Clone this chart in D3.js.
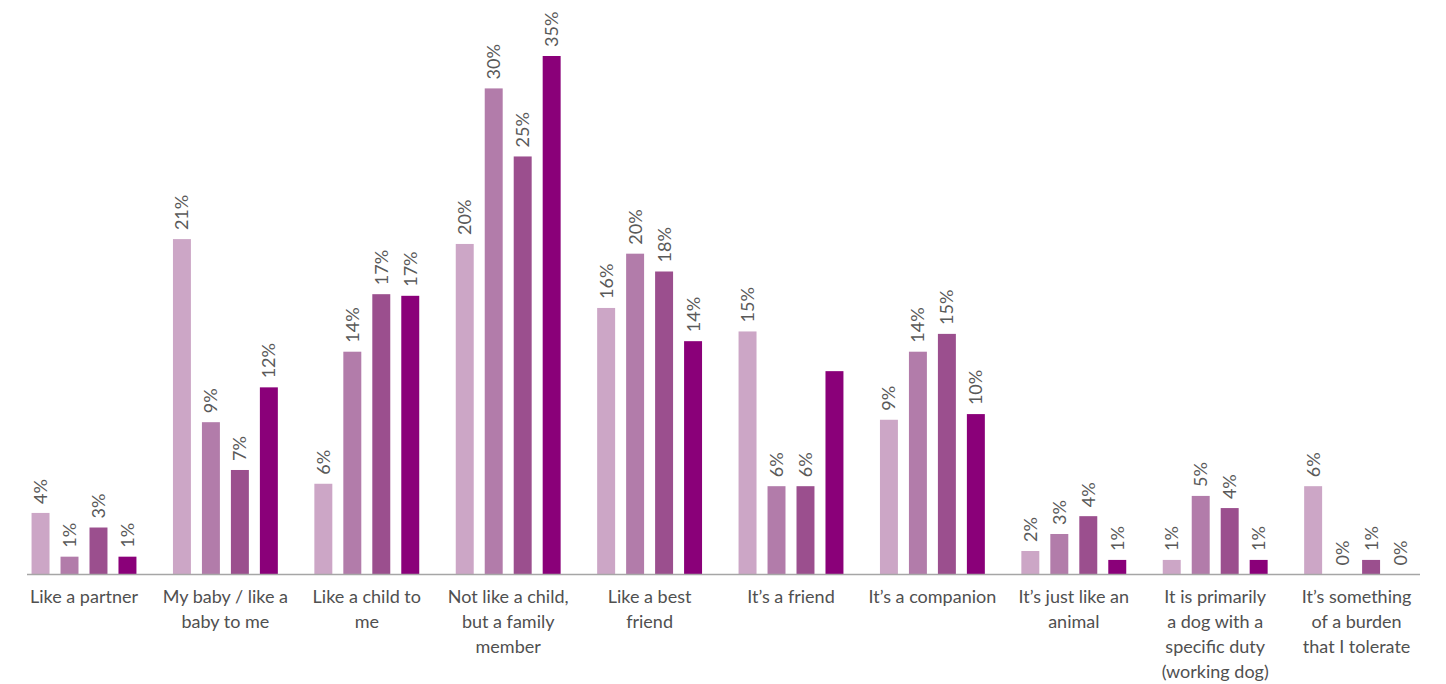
<!DOCTYPE html>
<html>
<head>
<meta charset="utf-8">
<script src="https://cdn.jsdelivr.net/npm/d3@7"></script>
<style>
  body { margin: 0; background: #fff; }
  svg text { font-family: Lato, "Open Sans", sans-serif; }
</style>
</head>
<body>
<svg id="chart" width="1446" height="684"></svg>
<script>
// categories, one label line per entry
var categories = [
    ["Like a partner"],
    ["My baby / like a", "baby to me"],
    ["Like a child to", "me"],
    ["Not like a child,", "but a family", "member"],
    ["Like a best", "friend"],
    ["It’s a friend"],
    ["It’s a companion"],
    ["It’s just like an", "animal"],
    ["It is primarily", "a dog with a", "specific duty", "(working dog)"],
    ["It’s something", "of a burden", "that I tolerate"]
];
var series = ["s1", "s2", "s3", "s4"];

// bar heights (percent)
var s1Values = [3.8, 20.7, 5.6, 20.4, 16.45, 15.0, 9.55, 1.45, 0.9, 5.45];
var s2Values = [1.1, 9.4, 13.75, 30.0, 19.8, 5.45, 13.75, 2.5, 4.85, 0];
var s3Values = [2.9, 6.45, 17.3, 25.8, 18.7, 5.45, 14.85, 3.6, 4.1, 0.9];
var s4Values = [1.1, 11.55, 17.2, 32.0, 14.4, 12.55, 9.9, 0.9, 0.9, 0];

// printed labels
var s1Labels = ["4%", "21%", "6%", "20%", "16%", "15%", "9%", "2%", "1%", "6%"];
var s2Labels = ["1%", "9%", "14%", "30%", "20%", "6%", "14%", "3%", "5%", "0%"];
var s3Labels = ["3%", "7%", "17%", "25%", "18%", "6%", "15%", "4%", "4%", "1%"];
var s4Labels = ["1%", "12%", "17%", "35%", "14%", "", "10%", "1%", "1%", "0%"];

var colors = ["#cca6c6", "#b27caa", "#9b4f8e", "#8a0079"];

var allValues = [s1Values, s2Values, s3Values, s4Values];
var allLabels = [s1Labels, s2Labels, s3Labels, s4Labels];

var baseline = 574.5;

var svg = d3.select("#chart");

var x0 = d3.scaleBand()
    .domain(d3.range(categories.length))
    .range([13.3, 1427.3]);

var x1 = d3.scaleBand()
    .domain(series)
    .range([0, x0.bandwidth()])
    .paddingInner(0.38)
    .paddingOuter(0.63);

var y = d3.scaleLinear()
    .domain([0, 32])
    .range([baseline, 56]);

var color = d3.scaleOrdinal().domain(series).range(colors);

// rows: one per bar
var rows = [];
categories.forEach(function(c, i){
    series.forEach(function(s, j){
        rows.push({cat: i, ser: s, value: allValues[j][i], label: allLabels[j][i]});
    });
});

var groups = svg.append("g");

groups.selectAll("rect")
    .data(rows)
    .enter().append("rect")
    .attr("x", function(d){ return x0(d.cat) + x1(d.ser); })
    .attr("y", function(d){ return y(d.value); })
    .attr("width", x1.bandwidth())
    .attr("height", function(d){ return baseline - y(d.value); })
    .attr("fill", function(d){ return color(d.ser); });

// value labels, rotated
groups.selectAll("text.val")
    .data(rows.filter(function(d){ return d.label != ""; }))
    .enter().append("text")
    .attr("class", "val")
    .attr("transform", function(d){
        var cx = x0(d.cat) + x1(d.ser) + x1.bandwidth()/2;
        return "translate(" + cx + "," + (y(d.value) - 9) + ") rotate(-90)";
    })
    .attr("dy", "0.36em")
    .attr("text-anchor", "start")
    .attr("font-size", 18)
    .attr("fill", "#595959")
    .text(function(d){ return d.label; });

// axis line
svg.append("line")
    .attr("x1", 27).attr("x2", 1420)
    .attr("y1", baseline).attr("y2", baseline)
    .attr("stroke", "#a6a6a6")
    .attr("stroke-width", 1.5);

// category labels
var cat = svg.append("g").selectAll("text")
    .data(categories)
    .enter().append("text")
    .attr("x", function(d, i){ return x0(i) + x0.bandwidth()/2; })
    .attr("y", 603)
    .attr("text-anchor", "middle")
    .attr("font-size", 18)
    .attr("fill", "#505050");

cat.selectAll("tspan")
    .data(function(d){ return d; })
    .enter().append("tspan")
    .attr("x", function(){ return d3.select(this.parentNode).attr("x"); })
    .attr("dy", function(d, i){ return i == 0 ? 0 : 25; })
    .text(function(d){ return d; });
</script>
</body>
</html>
